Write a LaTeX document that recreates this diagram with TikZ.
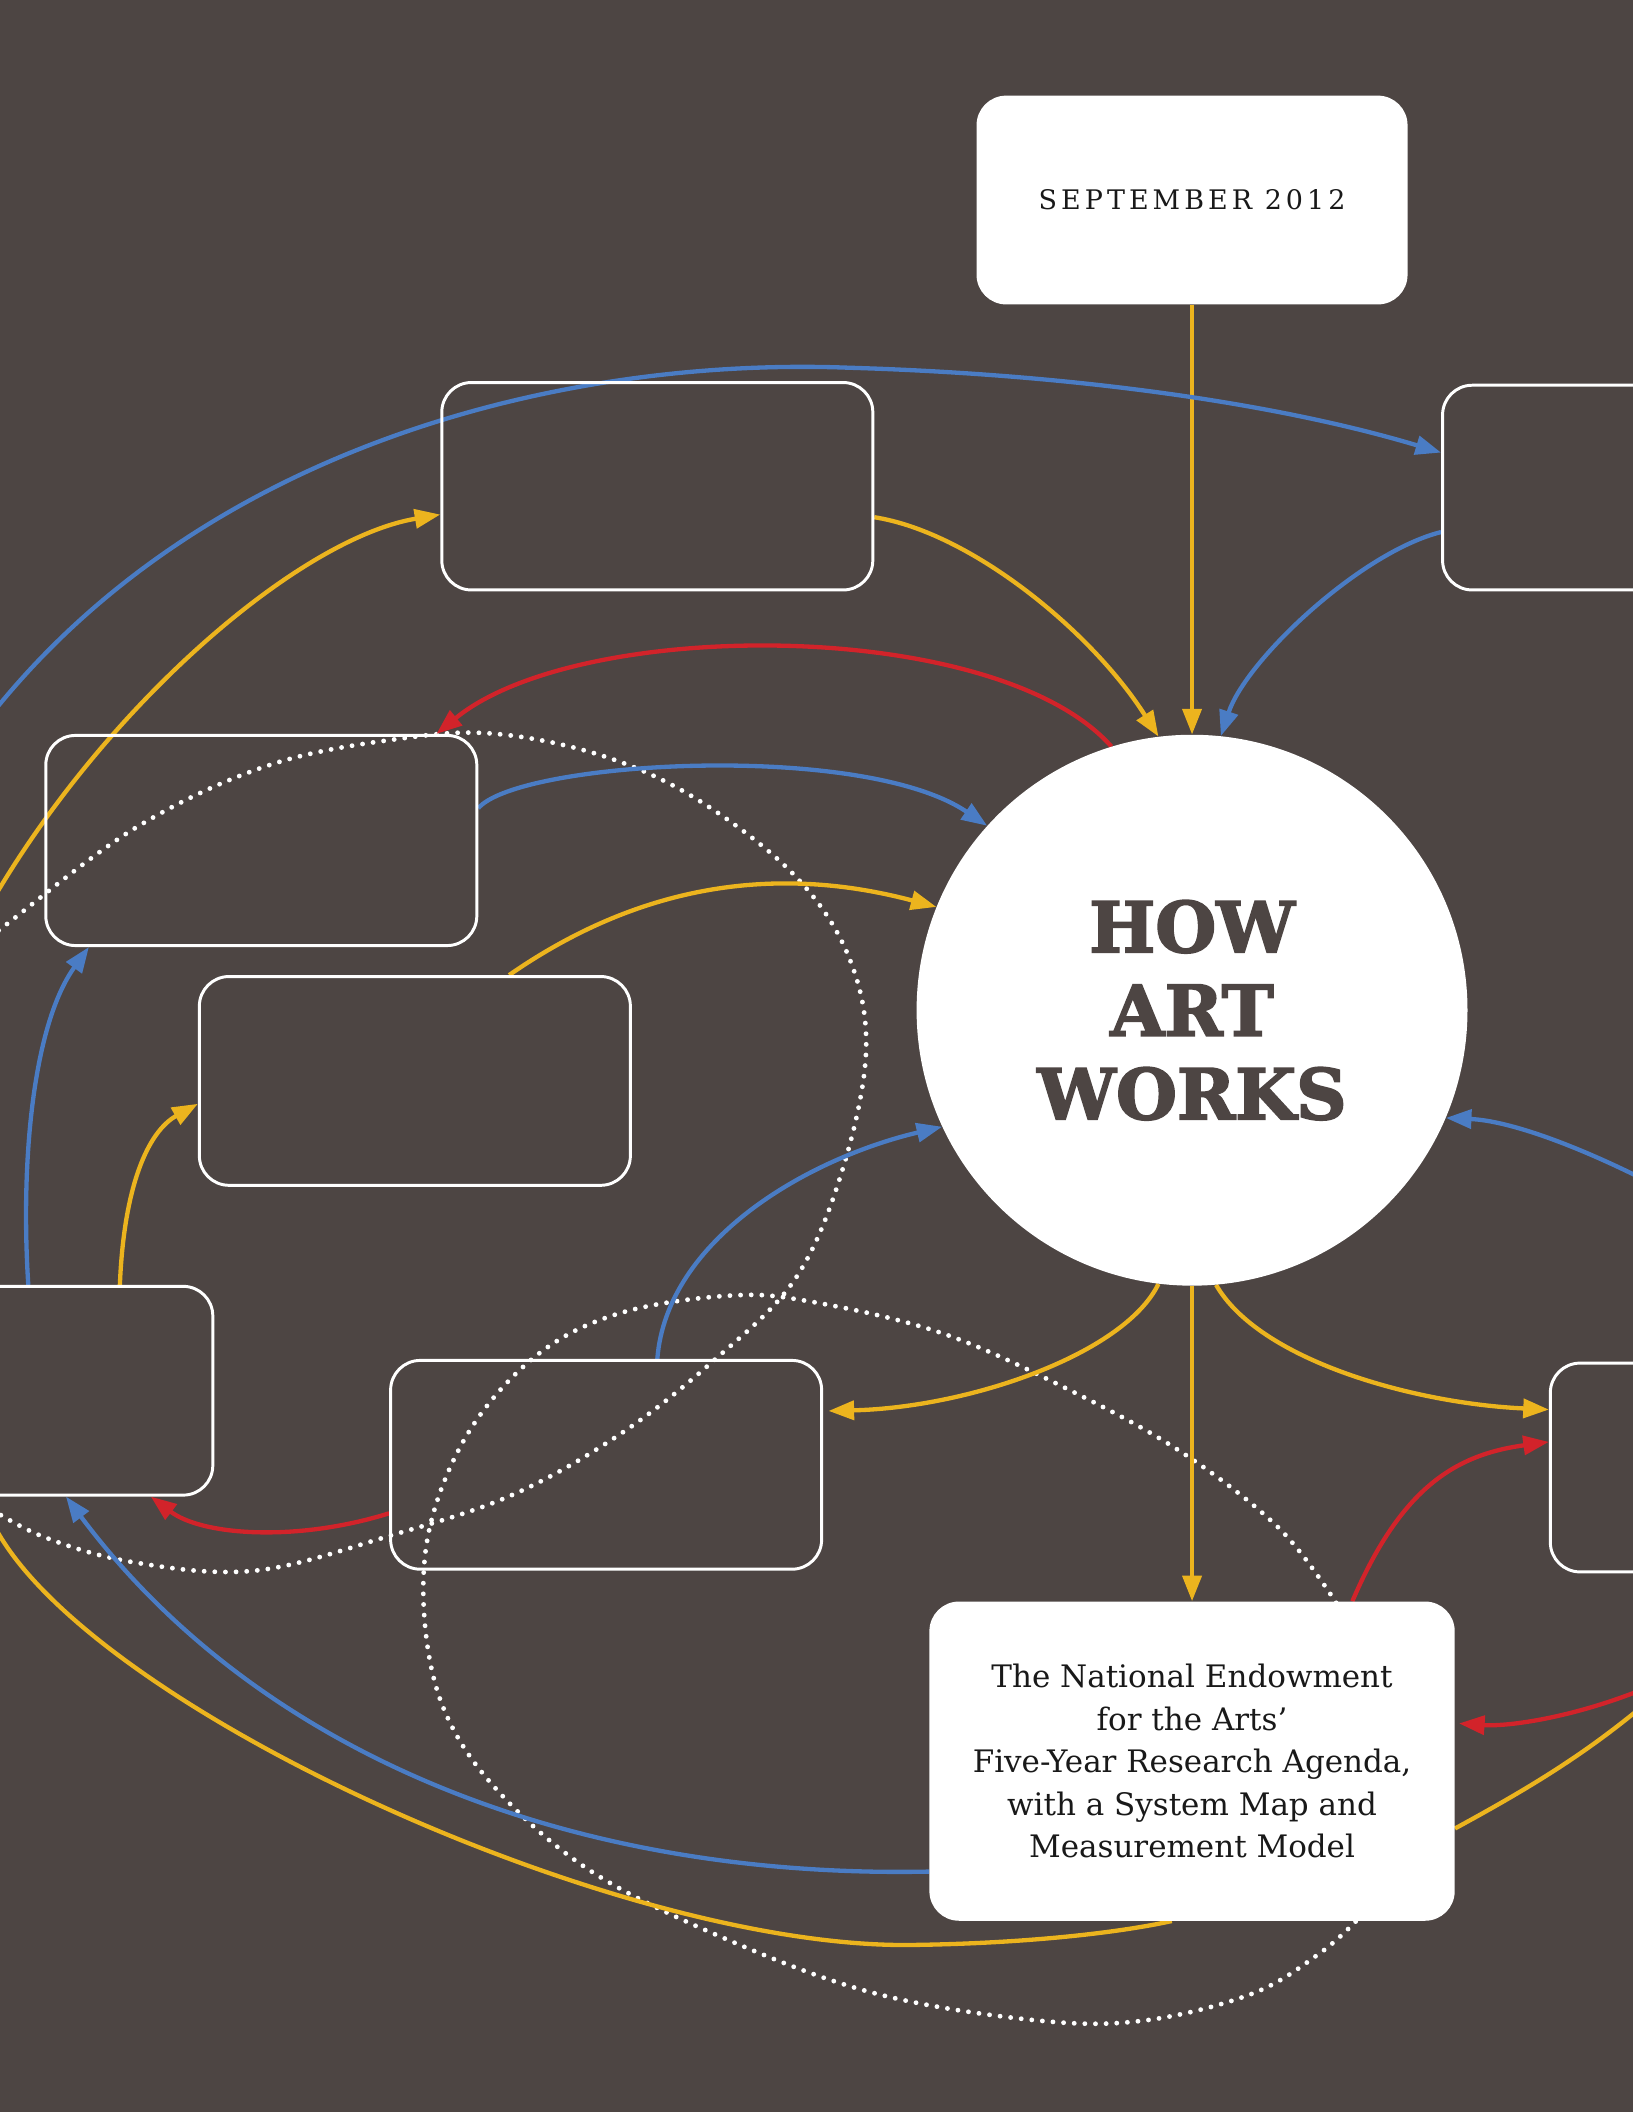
\documentclass[tikz,border=0pt]{standalone}
\usepackage{fontspec}
\setmainfont{DejaVu Serif}
\newfontfamily\spacedfont{DejaVu Serif}[LetterSpace=15]
\newfontfamily\titlefont{DejaVu Serif}[UprightFont=*-Bold,FakeBold=2.5]
\usetikzlibrary{arrows.meta,calc}
\definecolor{bgc}{RGB}{77,69,67}
\definecolor{cY}{RGB}{236,180,30}
\definecolor{cB}{RGB}{74,124,196}
\definecolor{cR}{RGB}{210,35,42}
\definecolor{ink}{RGB}{25,25,25}
\pgfdeclarelayer{bg}
\pgfsetlayers{bg,main}
\tikzset{
  arr/.style={-{Triangle[length=19pt,width=14pt]}},
  yline/.style={draw=cY,line width=3.2pt},
  bline/.style={draw=cB,line width=3.2pt},
  rline/.style={draw=cR,line width=3.2pt},
  dots/.style={draw=white,line width=3.6pt,line cap=round,dash pattern=on 0pt off 7.9pt},
  obox/.style={draw=white,line width=2.2pt,rounded corners=22pt,minimum width=320pt,minimum height=155pt,inner sep=0pt},
  wbox/.style={fill=white,rounded corners=22pt,inner sep=0pt,text=ink},
}
\begin{document}
\begin{tikzpicture}[x=1pt,y=-1pt]
\useasboundingbox (0,0) rectangle (1212,1568);
% nodes
\node[wbox,minimum width=320pt,minimum height=155pt,font=\spacedfont\fontsize{20}{20}\selectfont] (sept) at (885,148.5) {SEPTEMBER 2012};
\node[circle,fill=white,minimum size=409pt,inner sep=0pt,text=bgc,align=center,font=\titlefont\fontsize{52}{62}\selectfont] (haw) at (885,750) {HOW\\ART\\WORKS};
\node[wbox,minimum width=390pt,minimum height=237pt,align=center,font=\fontsize{23}{31.5}\selectfont] (bot) at (885,1307.5) {The National Endowment\\for the Arts’\\Five-Year Research Agenda,\\with a System Map and\\Measurement Model};
\node[obox,minimum height=154pt] (A) at (488,361) {};
\node[obox,minimum height=152pt] (B) at (1231,362) {};
\node[obox,minimum height=156pt] (C) at (194,624) {};
\node[obox] (D) at (308,802.5) {};
\node[obox] (E) at (-2,1032.5) {};
\node[obox] (F) at (450,1087.5) {};
\node[obox] (G) at (1311,1089.5) {};
% free ends
\coordinate (yl1) at (-15,685);
\coordinate (yl2) at (-10,1120);
\coordinate (yl3) at (1225,1262);
\coordinate (bl1) at (-10,535);
\coordinate (bl2) at (1225,878);
\coordinate (rl1) at (1225,1252);
\begin{pgfonlayer}{bg}
\fill[bgc] (0,0) rectangle (1212,1568);
% dotted loops
\draw[dots] plot[smooth,tension=0.6] coordinates {(-20,705) (0,690) (100,615) (200,568) (300,548) (370,545) (450,562) (520,595) (590,650) (630,710) (643,780) (625,870) (590,950) (530,1010) (460,1065) (380,1110) (290,1140) (190,1166) (100,1160) (30,1140) (-20,1112)};
\draw[dots] plot[smooth,tension=0.6] coordinates {(992,1190) (950,1135) (880,1080) (800,1035) (700,990) (600,966) (540,962) (460,975) (400,1005) (350,1060) (320,1130) (315,1200) (330,1270) (370,1330) (440,1390) (540,1440) (650,1480) (770,1500) (850,1500) (930,1480) (980,1450) (1008,1425)};
% yellow
\draw[yline,arr] (sept.south) -- (haw.north);
\draw[yline,arr] ([yshift=-23pt]A.east) .. controls (720,395) and (810,468) .. (haw.97.5);
\draw[yline,arr] ([xshift=70pt]D.north) .. controls (470,660) and (570,640) .. (haw.158.7);
\draw[yline,arr] (haw.263.7) .. controls (835,1005) and (720,1045) .. ([xshift=4pt,yshift=40pt]F.east);
\draw[yline,arr] (haw.south) -- (bot.north);
\draw[yline,arr] (haw.275) .. controls (935,1010) and (1050,1042) .. ([yshift=43pt]G.west);
\draw[yline,arr] ([xshift=91pt]E.north) .. controls (92,880) and (110,840) .. ([yshift=-17pt]D.west);
\draw[yline,arr] (yl1) .. controls (70,530) and (220,400) .. ([yshift=-21pt]A.west);
\draw[yline] (yl2) .. controls (40,1255) and (450,1446) .. (675,1444) .. controls (760,1443) and (830,1435) .. ([xshift=-15pt]bot.south);
\draw[yline] ([yshift=-50pt]bot.east) .. controls (1140,1325) and (1180,1300) .. (yl3);
% blue
\draw[bline,arr] (bl1) .. controls (150,330) and (420,265) .. (630,273) .. controls (800,278) and (950,300) .. ([yshift=26pt]B.west);
\draw[bline,arr] ([yshift=-33pt]B.west) .. controls (1010,410) and (925,490) .. (haw.84);
\draw[bline,arr] ([yshift=24pt]C.east) .. controls (385,565) and (640,550) .. (haw.138.7);
\draw[bline,arr] ([xshift=23pt]E.north) .. controls (15,860) and (25,760) .. ([xshift=-128pt]C.south);
\draw[bline,arr] ([xshift=38pt]F.north) .. controls (495,920) and (600,860) .. (haw.205.2);
\draw[bline,arr] (bl2) .. controls (1170,850) and (1120,832) .. (haw.337.3);
\draw[bline,arr] ([yshift=-82pt]bot.west) .. controls (420,1395) and (190,1300) .. ([xshift=51pt]E.south);
% red
\draw[rline,arr] (haw.107.5) .. controls (740,458) and (430,458) .. ([xshift=130pt]C.north);
\draw[rline,arr] ([yshift=-36pt]F.west) .. controls (220,1145) and (150,1140) .. ([xshift=114pt]E.south);
\draw[rline,arr] ([xshift=119pt]bot.north) .. controls (1040,1105) and (1080,1080) .. ([yshift=19pt]G.west);
\draw[rline,arr] (rl1) .. controls (1170,1275) and (1120,1282) .. ([xshift=3pt,yshift=28pt]bot.east);
\end{pgfonlayer}
\end{tikzpicture}
\end{document}
